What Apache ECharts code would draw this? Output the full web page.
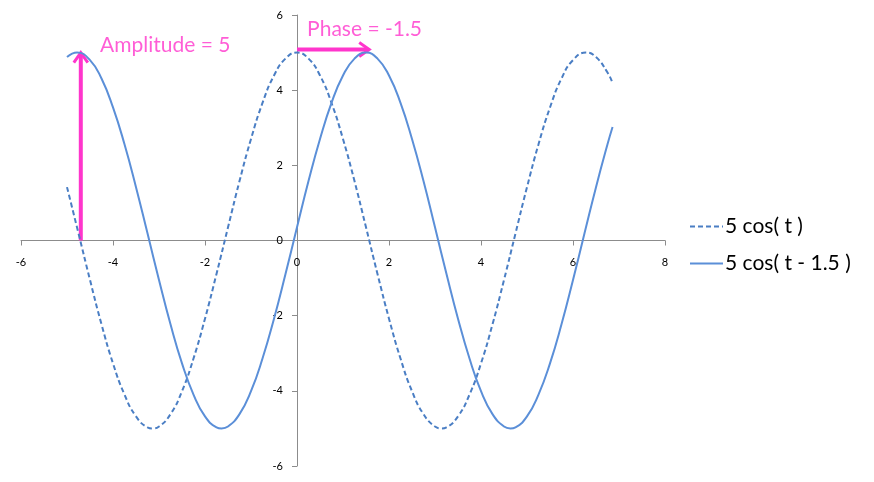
<!DOCTYPE html>
<html>
<head>
<meta charset="utf-8">
<script src="https://cdn.jsdelivr.net/npm/echarts@6/dist/echarts.min.js"></script>
<style>html,body{margin:0;padding:0;background:#fff}#c{width:874px;height:482px}</style>
</head>
<body>
<div id="c"></div>
<script>
const seriesNames = ['5 cos( t )', '5 cos( t - 1.5 )'];
const dashedT = [-5,-4.75,-4.5,-4.25,-4,-3.75,-3.5,-3.25,-3.14,-3,-2.75,-2.5,-2.25,-2,-1.75,-1.5,-1.25,-1,-0.75,-0.5,-0.25,0,0.25,0.5,0.75,1,1.25,1.5,1.75,2,2.25,2.5,2.75,3,3.14,3.25,3.5,3.75,4,4.25,4.5,4.75,5,5.25,5.5,5.75,6,6.28,6.5,6.75,6.86];
const dashedY = [1.42,0.19,-1.05,-2.23,-3.27,-4.10,-4.68,-4.97,-5,-4.95,-4.62,-4.01,-3.14,-2.08,-0.89,0.35,1.58,2.70,3.66,4.39,4.84,5,4.84,4.39,3.66,2.70,1.58,0.35,-0.89,-2.08,-3.14,-4.01,-4.62,-4.95,-5,-4.97,-4.68,-4.10,-3.27,-2.23,-1.05,0.19,1.42,2.56,3.54,4.31,4.80,5,4.88,4.47,4.19];
const solidT = [-5,-4.78,-4.5,-4.25,-4,-3.75,-3.5,-3.25,-3,-2.75,-2.5,-2.25,-2,-1.75,-1.64,-1.5,-1.25,-1,-0.75,-0.5,-0.25,0,0.25,0.5,0.75,1,1.25,1.5,1.75,2,2.25,2.5,2.75,3,3.25,3.5,3.75,4,4.25,4.5,4.64,4.75,5,5.25,5.5,5.75,6,6.25,6.5,6.75,6.86];
const solidY = [4.88,5,4.80,4.31,3.54,2.56,1.42,0.19,-1.05,-2.23,-3.27,-4.10,-4.68,-4.97,-5,-4.95,-4.62,-4.01,-3.14,-2.08,-0.89,0.35,1.58,2.70,3.66,4.39,4.84,5,4.84,4.39,3.66,2.70,1.58,0.35,-0.89,-2.08,-3.14,-4.01,-4.62,-4.95,-5,-4.97,-4.68,-4.10,-3.27,-2.23,-1.05,0.19,1.42,2.56,3.02];
const xTicks = [-6,-4,-2,0,2,4,6,8];
const yTicks = [-6,-4,-2,0,2,4,6];
// annotation arrows: [x1, y1, x2, y2]
const arrows = [[-4.70, 0, -4.70, 5], [0, 5.08, 1.57, 5.08]];
const annotationTexts = ['Amplitude = 5', 'Phase = -1.5'];
const annotationPos = [[-4.28, 5.2], [0.22, 5.63]];

const MAG = '#FF35CC';
const chart = echarts.init(document.getElementById('c'));
const font = 'Lato, "Open Sans", sans-serif';
const GRID = {left: 21, right: 209, top: 15, bottom: 16, containLabel: false, outerBoundsMode: 'none'};
chart.setOption({
  animation: false,
  grid: GRID,
  xAxis: {
    type: 'value', min: xTicks[0], max: xTicks[xTicks.length-1], interval: 2,
    axisLine: {onZero: false, lineStyle: {color: '#8c8c8c', width: 1}},
    axisTick: {show: true, length: 5, lineStyle: {color: '#8c8c8c'}},
    axisLabel: {color: '#000', fontSize: 11, fontFamily: font, margin: 16},
    splitLine: {show: false}
  },
  yAxis: {
    type: 'value', min: yTicks[0], max: yTicks[yTicks.length-1], interval: 2,
    axisLine: {show: true, onZero: false, lineStyle: {color: '#8c8c8c', width: 1}},
    axisTick: {show: true, length: 5, lineStyle: {color: '#8c8c8c'}},
    axisLabel: {color: '#000', fontSize: 11, fontFamily: font, margin: 14},
    splitLine: {show: false}
  },
  legend: {
    orient: 'vertical', left: 689, top: 216, itemGap: 16, padding: 0,
    itemWidth: 33, itemHeight: 14, selectedMode: false,
    itemStyle: {opacity: 0},
    textStyle: {fontSize: 21, color: '#000', fontFamily: font, padding: [0, 0, 0, -3]},
    data: seriesNames
  },
  series: [
    {
      name: seriesNames[0], type: 'line', smooth: true, symbol: 'none',
      data: dashedT.map((t, i) => [t, dashedY[i]]),
      lineStyle: {color: '#4A7EC4', width: 2, type: [5, 3]},
      itemStyle: {color: '#4A7EC4'}
    },
    {
      name: seriesNames[1], type: 'line', smooth: true, symbol: 'none',
      data: solidT.map((t, i) => [t, solidY[i]]),
      lineStyle: {color: '#5B8FD8', width: 2},
      itemStyle: {color: '#5B8FD8'}
    },
    {
      type: 'custom', clip: false, silent: true,
      data: arrows,
      encode: {x: [0, 2], y: [1, 3]},
      renderItem: function (params, api) {
        const p1 = api.coord([api.value(0), api.value(1)]);
        const p2 = api.coord([api.value(2), api.value(3)]);
        const dx = p2[0] - p1[0], dy = p2[1] - p1[1];
        const len = Math.sqrt(dx*dx + dy*dy);
        const ux = dx/len, uy = dy/len;
        const nx = -uy, ny = ux;
        const L = 10, W = 7;
        return {
          type: 'group',
          children: [
            {type: 'line', shape: {x1: p1[0], y1: p1[1], x2: p2[0] - ux*1.5, y2: p2[1] - uy*1.5},
              style: {stroke: MAG, lineWidth: 4}},
            {type: 'polyline', shape: {points: [
                [p2[0] - ux*L + nx*W, p2[1] - uy*L + ny*W],
                [p2[0], p2[1]],
                [p2[0] - ux*L - nx*W, p2[1] - uy*L - ny*W]
              ]},
              style: {stroke: MAG, lineWidth: 3, fill: null}}
          ]
        };
      }
    },
    {
      type: 'scatter', symbolSize: 0, silent: true,
      data: annotationPos.map((p, i) => ({value: p, name: annotationTexts[i]})),
      label: {show: true, position: 'right', distance: 0, formatter: '{b}',
        color: MAG, fontSize: 21, fontFamily: font}
    }
  ]
});
// place both axes through the origin (as in the reference), using the library's own scale
let xOff = 0, yOff = 0;
for (let k = 0; k < 3; k++) {
  const rect = chart.getModel().getComponent('grid').coordinateSystem.getRect();
  const origin = chart.convertToPixel({gridIndex: 0}, [0, 0]);
  xOff += origin[1] - (rect.y + rect.height) - xOff + xOff * 0; // absolute offset below
  xOff = origin[1] - (rect.y + rect.height);
  yOff = rect.x - origin[0];
  chart.setOption({xAxis: {offset: xOff}, yAxis: {offset: yOff}});
}
</script>
</body>
</html>
